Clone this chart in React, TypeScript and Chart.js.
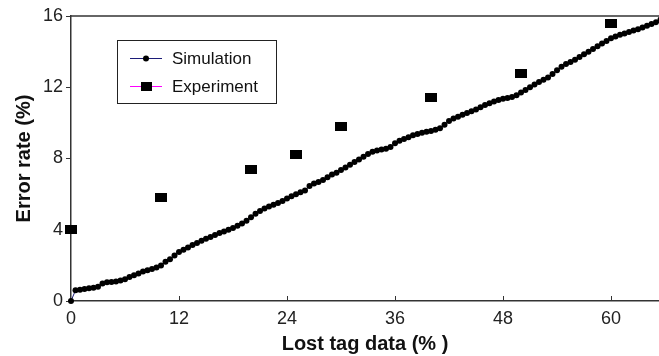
import React, { useEffect, useRef } from "react";
import { Chart, registerables } from "chart.js";

Chart.register(...registerables);

const xTicks = [0, 12, 24, 36, 48, 60];
const yTicks = [0, 4, 8, 12, 16];
const seriesNames = ["Simulation", "Experiment"];
const xTitle = "Lost tag data (% )";
const yTitle = "Error rate (%)";

const simX = [
  0, 0.5, 1, 1.5, 2, 2.5, 3, 3.5, 4, 4.5, 5, 5.5, 6, 6.5, 7, 7.5, 8, 8.5, 9, 9.5,
  10, 10.5, 11, 11.5, 12, 12.5, 13, 13.5, 14, 14.5, 15, 15.5, 16, 16.5, 17, 17.5, 18, 18.5, 19, 19.5,
  20, 20.5, 21, 21.5, 22, 22.5, 23, 23.5, 24, 24.5, 25, 25.5, 26, 26.5, 27, 27.5, 28, 28.5, 29, 29.5,
  30, 30.5, 31, 31.5, 32, 32.5, 33, 33.5, 34, 34.5, 35, 35.5, 36, 36.5, 37, 37.5, 38, 38.5, 39, 39.5,
  40, 40.5, 41, 41.5, 42, 42.5, 43, 43.5, 44, 44.5, 45, 45.5, 46, 46.5, 47, 47.5, 48, 48.5, 49, 49.5,
  50, 50.5, 51, 51.5, 52, 52.5, 53, 53.5, 54, 54.5, 55, 55.5, 56, 56.5, 57, 57.5, 58, 58.5, 59, 59.5,
  60, 60.5, 61, 61.5, 62, 62.5, 63, 63.5, 64, 64.5, 65, 65.5,
];
const simY = [
  0, 0.6, 0.63, 0.68, 0.72, 0.74, 0.8, 0.98, 1.05, 1.06, 1.1, 1.15, 1.22, 1.35, 1.45, 1.55, 1.65, 1.72, 1.8, 1.88,
  2.0, 2.2, 2.35, 2.55, 2.75, 2.88, 3.0, 3.15, 3.25, 3.38, 3.5, 3.6, 3.7, 3.82, 3.9, 4.0, 4.1, 4.22, 4.35, 4.5,
  4.7, 4.9, 5.05, 5.2, 5.3, 5.4, 5.5, 5.62, 5.75, 5.88, 6.0, 6.1, 6.2, 6.45, 6.6, 6.68, 6.8, 6.95, 7.1, 7.2,
  7.35, 7.5, 7.65, 7.8, 7.95, 8.1, 8.25, 8.38, 8.45, 8.5, 8.55, 8.65, 8.85, 9.0, 9.1, 9.2, 9.3, 9.38, 9.45, 9.5,
  9.55, 9.62, 9.7, 9.9, 10.1, 10.25, 10.35, 10.45, 10.55, 10.65, 10.75, 10.88, 11.0, 11.1, 11.2, 11.28, 11.35, 11.4, 11.45, 11.55,
  11.7, 11.85, 12.0, 12.15, 12.3, 12.42, 12.55, 12.75, 12.95, 13.15, 13.3, 13.42, 13.55, 13.7, 13.85, 14.0, 14.15, 14.3, 14.45, 14.6,
  14.75, 14.85, 14.95, 15.02, 15.1, 15.18, 15.25, 15.35, 15.45, 15.55, 15.65, 15.8,
];

const expX = [0, 10, 20, 25, 30, 40, 50, 60];
const expY = [4, 5.8, 7.4, 8.2, 9.8, 11.4, 12.8, 15.6];

const FONT = "'Liberation Sans', Arial, sans-serif";
const AXIS = "#333333";
const SIM_LINE = "#1c1c78";
const EXP_LINE = "#ff00ff";

function makeRect(w: number, h: number) {
  const c = document.createElement("canvas");
  c.width = w;
  c.height = h;
  const g = c.getContext("2d")!;
  g.fillStyle = "#000";
  g.fillRect(0, 0, w, h);
  return c;
}

const framePlugin = {
  id: "frameAndLegend",
  afterDraw(chart: any) {
    const { ctx, chartArea } = chart;
    const { left, right, top, bottom } = chartArea;
    ctx.save();
    ctx.strokeStyle = AXIS;
    ctx.lineWidth = 1.5;
    ctx.beginPath();
    ctx.moveTo(left, top);
    ctx.lineTo(right, top);
    ctx.stroke();
    const xs = chart.scales.x;
    ctx.beginPath();
    xTicks.forEach((v) => {
      if (v === 0) return;
      const px = Math.round(xs.getPixelForValue(v)) + 0.5;
      ctx.moveTo(px, bottom);
      ctx.lineTo(px, bottom - 5);
    });
    ctx.lineWidth = 1;
    ctx.stroke();

    // legend
    const bx = 117, by = 40, bw = 159, bh = 63;
    ctx.fillStyle = "#fff";
    ctx.fillRect(bx, by, bw, bh);
    ctx.strokeStyle = "#222";
    ctx.lineWidth = 1;
    ctx.strokeRect(bx + 0.5, by + 0.5, bw, bh);
    const rows = [58, 86];
    ctx.font = `17px ${FONT}`;
    ctx.textBaseline = "middle";
    ctx.textAlign = "left";
    rows.forEach((ry, i) => {
      ctx.strokeStyle = i === 0 ? SIM_LINE : EXP_LINE;
      ctx.lineWidth = 1;
      ctx.beginPath();
      ctx.moveTo(130, ry + 0.5);
      ctx.lineTo(162, ry + 0.5);
      ctx.stroke();
      ctx.fillStyle = "#000";
      if (i === 0) {
        ctx.beginPath();
        ctx.arc(146, ry + 0.5, 3, 0, Math.PI * 2);
        ctx.fill();
      } else {
        ctx.fillRect(141, ry - 4, 11, 9);
      }
      ctx.fillStyle = "#111";
      ctx.fillText(seriesNames[i], 172, ry + 1);
    });
    ctx.restore();
  },
};

export default function App() {
  const ref = useRef<HTMLCanvasElement | null>(null);
  useEffect(() => {
    if (!ref.current) return;
    const chart = new Chart(ref.current, {
      type: "line",
      data: {
        datasets: [
          {
            label: seriesNames[0],
            data: simX.map((x, i) => ({ x, y: simY[i] })),
            borderColor: SIM_LINE,
            borderWidth: 1,
            pointRadius: 3,
            pointBackgroundColor: "#000",
            pointBorderColor: "#000",
            pointBorderWidth: 0,
            showLine: true,
            clip: false as any,
          },
          {
            label: seriesNames[1],
            data: expX.map((x, i) => ({ x, y: expY[i] })),
            showLine: false,
            borderColor: EXP_LINE,
            pointStyle: makeRect(12, 9) as any,
            pointRadius: 6,
            clip: false as any,
          },
        ],
      },
      options: {
        animation: false,
        responsive: false,
        events: [],
        layout: { autoPadding: false, padding: { top: 16, left: 0, right: 0, bottom: 0 } },
        plugins: { legend: { display: false }, tooltip: { enabled: false } },
        scales: {
          x: {
            type: "linear",
            min: 0,
            max: 65.33,
            afterBuildTicks: (s: any) => {
              s.ticks = xTicks.map((v) => ({ value: v }));
            },
            afterFit: (s: any) => {
              s.height = 55;
            },
            grid: { display: true, drawOnChartArea: false, drawTicks: false },
            border: { display: true, color: AXIS, width: 1.5 },
            ticks: {
              padding: 7,
              color: "#222",
              font: { family: FONT, size: 18 },
              maxRotation: 0,
              autoSkip: false,
            },
            title: {
              display: true,
              text: xTitle,
              color: "#111",
              font: { family: FONT, size: 20, weight: "bold" },
              padding: { top: 4, bottom: 0 },
            },
          },
          y: {
            type: "linear",
            min: 0,
            max: 16,
            afterBuildTicks: (s: any) => {
              s.ticks = yTicks.map((v) => ({ value: v }));
            },
            afterFit: (s: any) => {
              s.width = 71;
            },
            grid: {
              display: true,
              drawOnChartArea: false,
              drawTicks: true,
              tickLength: 5,
              color: AXIS,
              lineWidth: 1,
            },
            border: { display: true, color: AXIS, width: 1.5 },
            ticks: {
              padding: 3,
              color: "#222",
              font: { family: FONT, size: 18 },
              autoSkip: false,
            },
            title: {
              display: true,
              text: yTitle,
              color: "#111",
              font: { family: FONT, size: 20, weight: "bold" },
              padding: { top: 12, bottom: 0 },
            },
          },
        },
      },
      plugins: [framePlugin],
    });
    return () => chart.destroy();
  }, []);
  return (
    <div style={{ position: "absolute", left: 0, top: 0, width: 659, height: 356, background: "#fff" }}>
      <canvas ref={ref} width={659} height={356} style={{ display: "block" }} />
    </div>
  );
}
